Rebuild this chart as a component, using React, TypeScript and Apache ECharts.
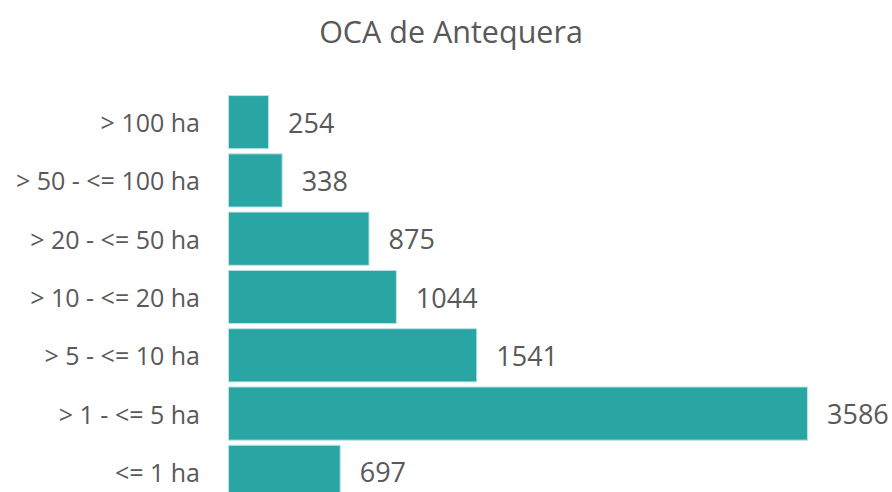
import React, { useEffect, useRef } from "react";
import * as echarts from "echarts";

const categories = [
  "> 100 ha",
  "> 50 - <= 100 ha",
  "> 20 - <= 50 ha",
  "> 10 - <= 20 ha",
  "> 5 - <= 10 ha",
  "> 1 - <= 5 ha",
  "<= 1 ha",
];
const values = [254, 338, 875, 1044, 1541, 3586, 697];
const titleText = "OCA de Antequera";

export default function App() {
  const ref = useRef<HTMLDivElement>(null);
  useEffect(() => {
    if (!ref.current) return;
    const chart = echarts.init(ref.current, null, { renderer: "svg" });
    chart.setOption({
      animation: false,
      backgroundColor: "#ffffff",
      title: {
        text: titleText,
        left: 446,
        textAlign: "center",
        top: 10,
        textStyle: {
          fontFamily: "Open Sans",
          fontSize: 30.5,
          fontWeight: "normal",
          color: "#595959",
        },
      },
      grid: {
        left: 228,
        top: 93,
        width: 647,
        height: 408,
        outerBoundsMode: "none",
      },
      xAxis: {
        type: "value",
        min: 0,
        max: 4000,
        show: false,
      },
      yAxis: {
        type: "category",
        data: categories,
        inverse: true,
        axisLine: { show: false },
        axisTick: { show: false },
        splitLine: { show: false },
        axisLabel: {
          margin: 28,
          fontFamily: "Open Sans",
          fontSize: 25,
          color: "#595959",
        },
      },
      series: [
        {
          type: "bar",
          data: values,
          barCategoryGap: "7%",
          itemStyle: {
            color: "#29a6a4",
            borderColor: "#bfe4e3",
            borderWidth: 1,
          },
          label: {
            show: true,
            position: "right",
            distance: 19,
            fontFamily: "Open Sans",
            fontSize: 27,
            color: "#595959",
          },
        },
      ],
    });
    return () => chart.dispose();
  }, []);
  return (
    <div
      ref={ref}
      style={{ position: "fixed", left: 0, top: 0, width: 892, height: 492 }}
    />
  );
}
